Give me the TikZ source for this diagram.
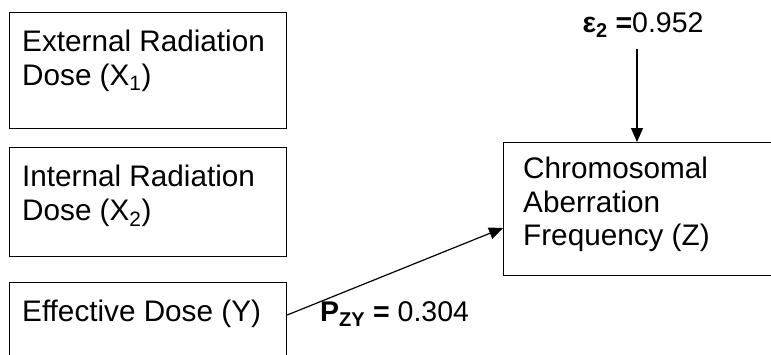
\documentclass[tikz,border=0pt]{standalone}
\usepackage{fontspec}
\setmainfont{Liberation Sans}
\usetikzlibrary{arrows.meta,calc,positioning}
\tikzset{
  varbox/.style={draw, line width=1.2pt, inner sep=0pt, anchor=north west, minimum width=277pt},
  outbox/.style={draw, line width=1.2pt, inner sep=0pt, anchor=north west, minimum width=272pt, minimum height=133pt},
  vartext/.style={anchor=north west, inner sep=0pt, align=left, font=\fontsize{29.7}{33.5}\selectfont},
  coef/.style={inner sep=0pt, font=\fontsize{28.5}{32}\selectfont},
  flow/.style={-{Triangle[length=14pt, width=12pt]}, line width=1.2pt}
}

\begin{document}
\begin{tikzpicture}[x=1pt, y=-1pt]
  \useasboundingbox (0,0) rectangle (771,354);
  \clip (0,0) rectangle (771,354);

  \node[varbox, minimum height=116pt] (xone) at (9,12) {};
  \node[varbox, minimum height=109pt] (xtwo) at (9,147) {};
  \node[varbox, minimum height=110pt] (ybox) at (9,282) {};
  \node[outbox] (zbox) at (503,142) {};

  \node[vartext] (xonetext) at ($(xone.north west)+(13,18)$) {External Radiation\\Dose (X\textsubscript{1})};
  \node[vartext] (xtwotext) at ($(xtwo.north west)+(13,18)$) {Internal Radiation\\Dose (X\textsubscript{2})};
  \node[vartext] (ytext) at ($(ybox.north west)+(13,18)$) {Effective Dose (Y)};
  \node[vartext] (ztext) at ($(zbox.north west)+(20,15)$) {Chromosomal\\Aberration\\Frequency (Z)};

  \node[coef, anchor=base] (eps) at (643,32) {{\bfseries ε\textsubscript{2} =}0.952};
  \node[coef, anchor=base west] (pzy) at (320,321) {{\bfseries P\textsubscript{ZY} =} 0.304};

  \coordinate (ztop) at ($(zbox.north west)+(134,0)$);
  \coordinate (zin) at ($(zbox.north west)+(0,86)$);
  \coordinate (yout) at ($(ybox.north east)+(0,33)$);

  \draw[flow, shorten <=11pt] (eps.south -| ztop) -- (ztop);
  \draw[flow] (yout) -- (zin);
\end{tikzpicture}
\end{document}
